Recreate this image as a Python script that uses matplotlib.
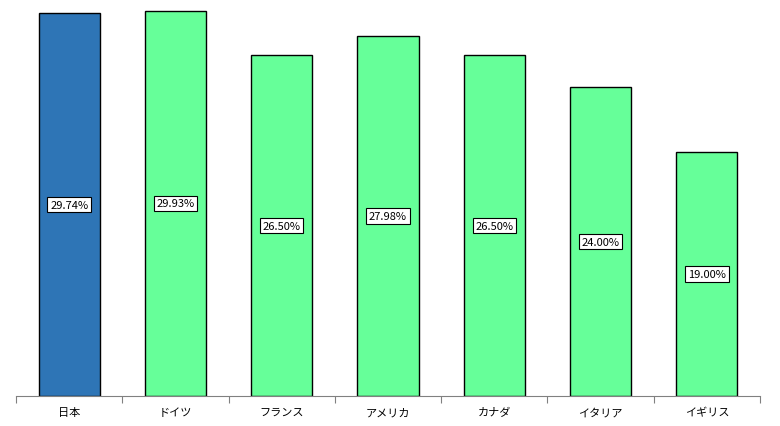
import matplotlib
matplotlib.use("Agg")
import matplotlib.pyplot as plt

plt.rcParams['font.family'] = ['Noto Sans CJK JP', 'DejaVu Sans']

categories = ["日本", "ドイツ", "フランス", "アメリカ", "カナダ", "イタリア", "イギリス"]
values = [29.74, 29.93, 26.50, 27.98, 26.50, 24.00, 19.00]
colors = ["#2e75b6"] + ["#66ff99"] * 6

fig = plt.figure(figsize=(7.8, 4.27), dpi=100)
ax = fig.add_axes([16/780, 1 - 397/427, 744/780, 386/427])
x = list(range(len(categories)))
ax.bar(x, values, width=0.575, color=colors, edgecolor="black", linewidth=1)
for xi, v in zip(x, values):
    ax.text(xi, v / 2, f"{v:.2f}%", ha="center", va="center", fontsize=8,
            bbox=dict(boxstyle="square,pad=0.25", facecolor="white", edgecolor="black", linewidth=0.8))
ax.set_xlim(-0.5, len(categories) - 0.5)
ax.set_ylim(0, 30)
for s in ["top", "right", "left"]:
    ax.spines[s].set_visible(False)
ax.spines["bottom"].set_color("#808080")
ax.set_yticks([])
ax.set_xticks([i - 0.5 for i in range(len(categories) + 1)], minor=False)
ax.set_xticklabels([])
ax.tick_params(axis="x", which="major", length=5, color="#808080")
ax.set_xticks(x, minor=True)
ax.set_xticklabels(categories, minor=True, fontsize=8)
ax.tick_params(axis="x", which="minor", length=0, pad=8)
fig.savefig("out.png", dpi=100)
